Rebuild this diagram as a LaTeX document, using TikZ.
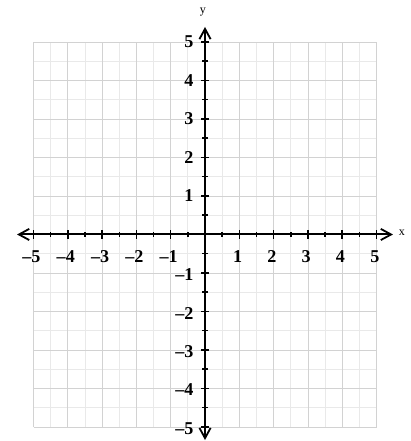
\documentclass[tikz,border=0pt]{standalone}
\usepackage{fontspec}
\setmainfont{Liberation Serif}
\usetikzlibrary{arrows.meta}

\tikzset{
  axis/.style={line width=1.3pt, black, {Straight Barb[length=2.4mm,width=2.6mm,line width=1.2pt]}-{Straight Barb[length=2.4mm,width=2.6mm,line width=1.2pt]}},
  tick/.style={line width=1pt, black},
  numlab/.style={font=\fontsize{12}{14}\selectfont\bfseries, inner sep=0pt},
  axlab/.style={font=\fontsize{8}{9}\selectfont, inner sep=0pt}
}

\begin{document}
\begin{tikzpicture}[x=0.8cm,y=0.898cm]
      \useasboundingbox (-5.977,-5.364) rectangle (5.977,6.09);
      % grid
      \draw[line width=0.5pt, gray!17, step=0.5] (-5,-5) grid (5,5);
      \draw[line width=0.55pt, gray!35, step=1] (-5,-5) grid (5,5);

      % axes
      \coordinate (xmin) at (-5.48,0);
      \coordinate (xmax) at (5.48,0);
      \coordinate (ymin) at (0,-5.34);
      \coordinate (ymax) at (0,5.39);
      \draw[axis] (xmin) -- (xmax);
      \draw[axis] (ymin) -- (ymax);
      \node[axlab] (xname) at (5.74,0.04) {x};
      \node[axlab] (yname) at (-0.06,5.78) {y};

      % ticks
      \foreach \i in {-5,...,-1,1,2,...,5} {
        \draw[tick] ([yshift=-2.8pt]\i,0) -- ([yshift=2.8pt]\i,0);
        \draw[tick] ([xshift=-2.6pt]0,\i) -- ([xshift=2.6pt]0,\i);
      }
      \foreach \i in {-4.5,-3.5,...,4.5} {
        \draw[tick] ([yshift=-1.6pt]\i,0) -- ([yshift=1.6pt]\i,0);
        \draw[tick] ([xshift=-1.8pt]0,\i) -- ([xshift=1.8pt]0,\i);
      }

      % numbers
      \foreach \i in {1,...,5} {
        \node[numlab] (xp\i) at (\i-0.05,-0.57) {\i};
        \node[numlab] (xm\i) at (-\i-0.06,-0.57) {–\i};
        \node[numlab, anchor=east] (yp\i) at (-0.33,\i) {\i};
        \node[numlab, anchor=east] (ym\i) at (-0.33,-\i-0.04) {–\i};
      }
\end{tikzpicture}
\end{document}
